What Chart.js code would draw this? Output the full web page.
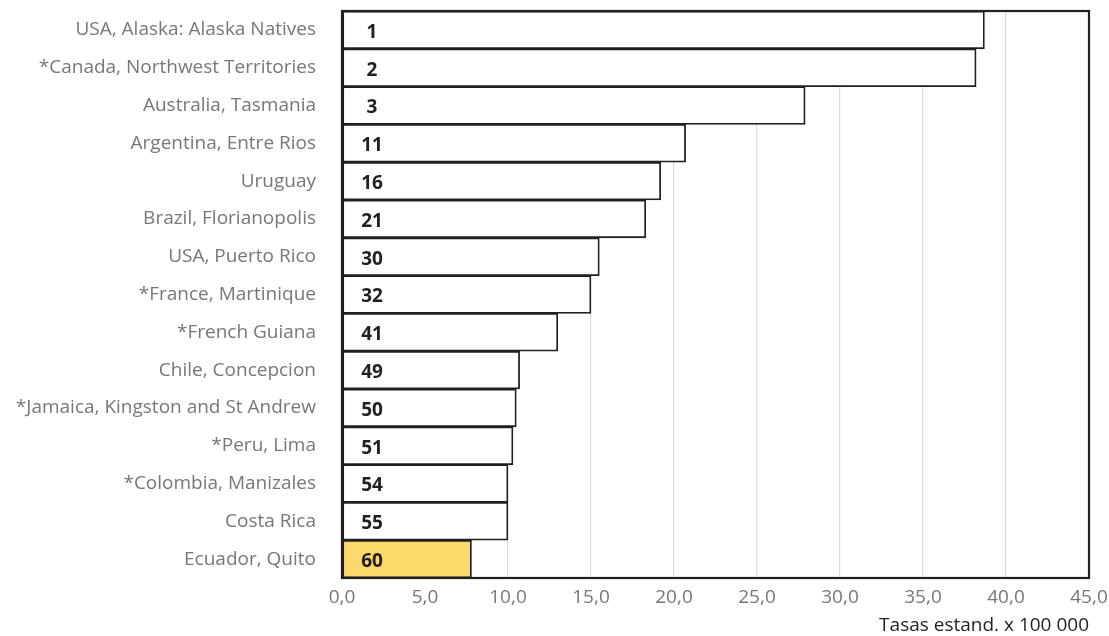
<!DOCTYPE html>
<html>
<head>
<meta charset="utf-8">
<script src="https://cdn.jsdelivr.net/npm/chart.js@4"></script>
<style>
  html, body { margin: 0; padding: 0; background: #fff; }
  #wrap { width: 1109px; height: 636px; }
</style>
</head>
<body>
<div id="wrap"><canvas id="chart" width="1109" height="636"></canvas></div>
<script>
const categories = [
  'USA, Alaska: Alaska Natives',
  '*Canada, Northwest Territories',
  'Australia, Tasmania',
  'Argentina, Entre Rios',
  'Uruguay',
  'Brazil, Florianopolis',
  'USA, Puerto Rico',
  '*France, Martinique',
  '*French Guiana',
  'Chile, Concepcion',
  '*Jamaica, Kingston and St Andrew',
  '*Peru, Lima',
  '*Colombia, Manizales',
  'Costa Rica',
  'Ecuador, Quito'
];
const rates = [38.7, 38.2, 27.9, 20.7, 19.2, 18.3, 15.5, 15.0, 13.0, 10.7, 10.5, 10.3, 10.0, 10.0, 7.8];
const ranks = [1, 2, 3, 11, 16, 21, 30, 32, 41, 49, 50, 51, 54, 55, 60];
const xTicks = [0, 5, 10, 15, 20, 25, 30, 35, 40, 45];

const FONT = '"Open Sans", "Liberation Sans", sans-serif';

// rank numbers inside the bars + frame round the plot
const rankLabels = {
  id: 'rankLabels',
  afterDatasetsDraw(chart) {
    const ctx = chart.ctx;
    const meta = chart.getDatasetMeta(0);
    const x0 = chart.scales.x.getPixelForValue(0);
    ctx.save();
    ctx.font = 'bold 19px ' + FONT;
    ctx.fillStyle = '#231f20';
    ctx.textAlign = 'center';
    ctx.textBaseline = 'middle';
    meta.data.forEach((bar, i) => {
      ctx.fillText(String(ranks[i]), x0 + 30, bar.y + 2.5);
    });
    const a = chart.chartArea;
    ctx.strokeStyle = '#231f20';
    ctx.lineWidth = 2.2;
    ctx.strokeRect(a.left, a.top, a.right - a.left, a.bottom - a.top);
    ctx.restore();
  }
};

new Chart(document.getElementById('chart').getContext('2d'), {
  type: 'bar',
  data: {
    labels: categories,
    datasets: [{
      data: rates,
      backgroundColor: rates.map((v, i) => i === rates.length - 1 ? '#fdd86b' : '#ffffff'),
      borderColor: '#231f20',
      borderWidth: 1.8,
      borderSkipped: false,
      barPercentage: 1,
      categoryPercentage: 1
    }]
  },
  options: {
    indexAxis: 'y',
    responsive: false,
    animation: false,
    layout: { padding: { top: 11, right: 20, left: 0, bottom: 0 } },
    plugins: { legend: { display: false }, tooltip: { enabled: false } },
    scales: {
      x: {
        min: 0,
        max: 45,
        afterBuildTicks: s => { s.ticks = xTicks.map(v => ({ value: v })); },
        afterFit: s => { s.height = 58; s.paddingLeft = 0; s.paddingRight = 0; },
        ticks: {
          color: '#77777a',
          font: { family: FONT, size: 19 },
          padding: 8,
          maxRotation: 0,
          callback: v => v.toFixed(1).replace('.', ',')
        },
        grid: { color: '#dcdcdc', lineWidth: 1.2, drawTicks: false },
        border: { display: false },
        title: {
          display: true,
          text: 'Tasas estand. x 100 000',
          align: 'end',
          color: '#231f20',
          font: { family: FONT, size: 19 },
          padding: { top: 2, bottom: -1 }
        }
      },
      y: {
        afterFit: s => { s.width = 342; s.paddingTop = 0; s.paddingBottom = 0; },
        ticks: {
          color: '#77777a',
          font: { family: FONT, size: 19 },
          padding: 26,
          autoSkip: false
        },
        grid: { display: false, drawTicks: false },
        border: { display: false }
      }
    }
  },
  plugins: [rankLabels]
});
</script>
</body>
</html>
